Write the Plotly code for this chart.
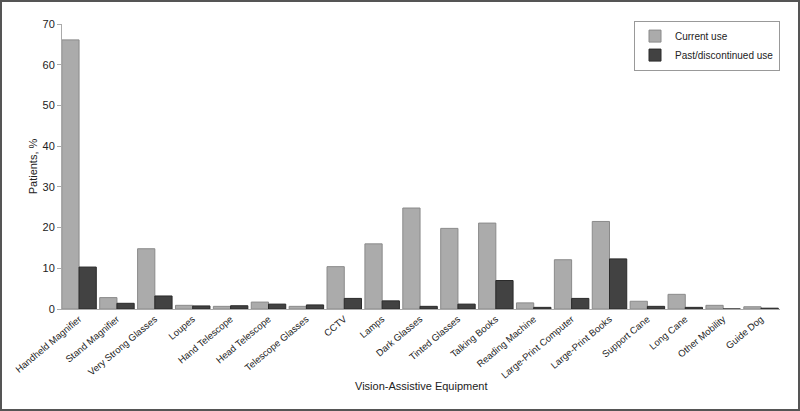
import plotly.graph_objects as go

categories = ["Handheld Magnifier", "Stand Magnifier", "Very Strong Glasses", "Loupes",
              "Hand Telescope", "Head Telescope", "Telescope Glasses", "CCTV", "Lamps",
              "Dark Glasses", "Tinted Glasses", "Talking Books", "Reading Machine",
              "Large-Print Computer", "Large-Print Books", "Support Cane", "Long Cane",
              "Other Mobility", "Guide Dog"]
current_use = [66.1, 2.8, 14.8, 0.9, 0.65, 1.7, 0.65, 10.4, 16.0, 24.8, 19.8, 21.1, 1.5,
               12.1, 21.5, 1.9, 3.6, 0.9, 0.55]
past_use = [10.3, 1.4, 3.2, 0.75, 0.8, 1.2, 1.0, 2.6, 2.0, 0.65, 1.2, 7.0, 0.4,
            2.6, 12.3, 0.65, 0.4, 0.0, 0.2]
y_ticks = [0, 10, 20, 30, 40, 50, 60, 70]

FONT = "Liberation Sans Narrow, Arial Narrow, Liberation Sans, Arial, sans-serif"
W, H = 800, 411
ML, MR, MT, MB = 62, 20, 24, 102

fig = go.Figure()
fig.add_trace(go.Bar(x=categories, y=current_use, name="Current use",
                     marker=dict(color="#ababab", line=dict(color="#8a8a8a", width=1))))
fig.add_trace(go.Bar(x=categories, y=past_use, name="Past/discontinued use",
                     marker=dict(color="#424242", line=dict(color="#2a2a2a", width=1))))

pw = W - ML - MR
ph = H - MT - MB
fig.add_shape(type="rect", xref="paper", yref="paper",
              x0=-(ML - 1) / pw, x1=1 + (MR - 1) / pw,
              y0=-(MB - 1) / ph, y1=1 + (MT - 1) / ph,
              line=dict(color="#555555", width=2), fillcolor="rgba(0,0,0,0)", layer="below")

fig.add_annotation(text="Vision-Assistive Equipment", xref="paper", yref="paper",
                   x=0.5, y=-(386 - (H - MB)) / ph, xanchor="center", yanchor="middle",
                   showarrow=False, font=dict(family=FONT, size=11, color="#222222"))

fig.update_layout(
    width=W, height=H,
    margin=dict(l=ML, r=MR, t=MT, b=MB, autoexpand=False),
    paper_bgcolor="white", plot_bgcolor="white",
    font=dict(family=FONT, size=11, color="#222222"),
    barmode="group", bargap=0.09, bargroupgap=0.0,
    showlegend=True,
    legend=dict(x=1, xanchor="right", y=1.012, yanchor="top",
                bordercolor="#999999", borderwidth=1, bgcolor="white",
                font=dict(family=FONT, size=10, color="#222222"),
                itemwidth=30, tracegroupgap=0),
    xaxis=dict(
        automargin=False,
        tickangle=-40, showline=True, linecolor="#aaaaaa", linewidth=1,
        ticks="", showgrid=False, range=[-0.45, 18.5],
        tickfont=dict(family=FONT, size=9.5),
    ),
    yaxis=dict(
        automargin=False,
        title=dict(text="Patients, %", font=dict(family=FONT, size=11), standoff=2),
        range=[0, 70], tickvals=y_ticks, showline=True, linecolor="#aaaaaa", linewidth=1,
        ticks="outside", ticklen=4, tickcolor="#aaaaaa", showgrid=False, zeroline=False,
        tickfont=dict(family=FONT, size=11),
    ),
)

fig.write_html("out.html", config={"displayModeBar": False},
               post_script="document.body.style.margin='0px';")
